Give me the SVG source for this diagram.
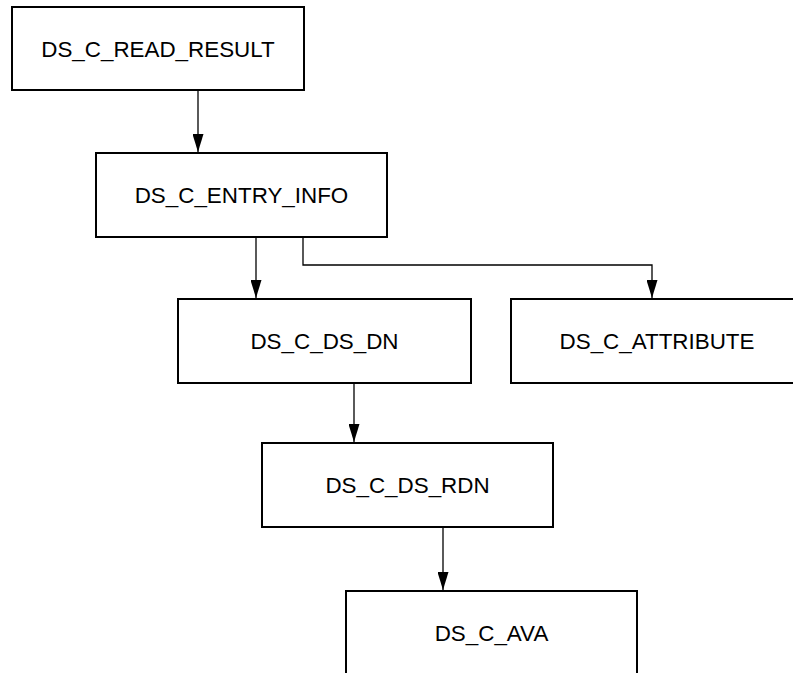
<svg xmlns="http://www.w3.org/2000/svg" width="793" height="673" viewBox="0 0 793 673">
<style>
.box{fill:#fff;stroke:#000;stroke-width:2}
.lbl{font-family:"Liberation Sans",Arial,sans-serif;font-size:22.4px;fill:#000;text-anchor:middle}
.con{fill:none;stroke:#000;stroke-width:1.3}
</style>
<defs>
<marker id="arr" viewBox="0 0 18 11" refX="18" refY="5.5" markerWidth="18" markerHeight="11" markerUnits="userSpaceOnUse" orient="auto">
<path d="M0,0 L18,5.5 L0,11 Z" fill="#000"/>
</marker>
</defs>
<rect width="793" height="673" fill="#fff"/>
<g id="connectors">
<path class="con" d="M198,90 V152" marker-end="url(#arr)"/>
<path class="con" d="M256,237 V298" marker-end="url(#arr)"/>
<path class="con" d="M303,237 V265 H652 V298" marker-end="url(#arr)"/>
<path class="con" d="M354,383 V442" marker-end="url(#arr)"/>
<path class="con" d="M443,527 V590" marker-end="url(#arr)"/>
</g>
<g id="read_result"><rect class="box" x="12" y="7" width="292" height="83"/><text class="lbl" x="158" y="57">DS_C_READ_RESULT</text></g>
<g id="entry_info"><rect class="box" x="96" y="153" width="291" height="84"/><text class="lbl" x="241.5" y="203">DS_C_ENTRY_INFO</text></g>
<g id="ds_dn"><rect class="box" x="178" y="299" width="293" height="84"/><text class="lbl" x="324.5" y="349">DS_C_DS_DN</text></g>
<g id="attribute"><rect class="box" x="511" y="299" width="292" height="84"/><text class="lbl" x="657" y="349">DS_C_ATTRIBUTE</text></g>
<g id="ds_rdn"><rect class="box" x="262" y="443" width="291" height="84"/><text class="lbl" x="407.5" y="493">DS_C_DS_RDN</text></g>
<g id="ava"><rect class="box" x="346" y="591" width="291" height="90"/><text class="lbl" x="491.5" y="641">DS_C_AVA</text></g>
</svg>
